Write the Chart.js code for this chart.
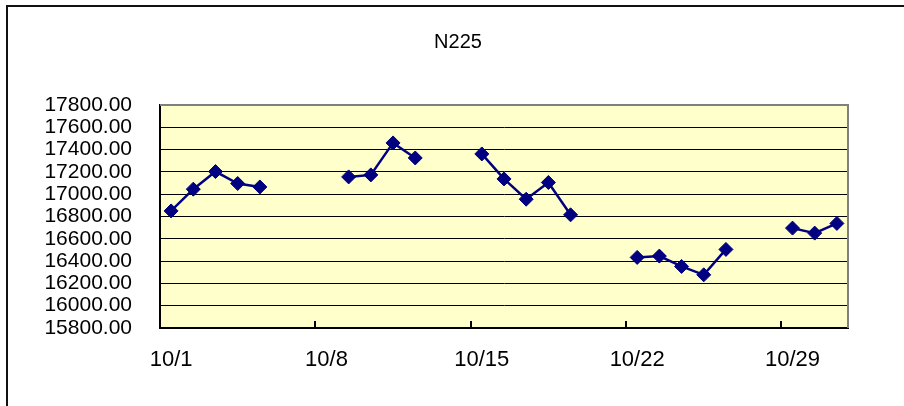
<!DOCTYPE html>
<html>
<head>
<meta charset="utf-8">
<script src="https://cdn.jsdelivr.net/npm/chart.js@4"></script>
<style>
  html, body { margin: 0; padding: 0; background: #fff; }
  #wrap { position: relative; width: 904px; height: 406px; overflow: hidden; }
  #frame { position: absolute; left: 6px; top: 5px; width: 920px; height: 420px;
           border-top: 2px solid #111; border-left: 2px solid #111; pointer-events: none; }
  canvas { position: absolute; left: 0; top: 0; }
</style>
</head>
<body>
<div id="wrap">
  <canvas id="c" width="904" height="406"></canvas>
  <div id="frame"></div>
</div>
<script>
const chartTitle = 'N225';
const categories = ['10/1','10/2','10/3','10/4','10/5','10/6','10/7','10/8','10/9','10/10',
  '10/11','10/12','10/13','10/14','10/15','10/16','10/17','10/18','10/19','10/20',
  '10/21','10/22','10/23','10/24','10/25','10/26','10/27','10/28','10/29','10/30','10/31'];
const n225 = [16850, 17045, 17203, 17096, 17065, null, null, null, 17155, 17173,
  17460, 17325, null, null, 17361, 17137, 16955, 17105, 16815, null,
  null, 16433, 16445, 16352, 16277, 16505, null, null, 16696, 16651, 16738];
const yMin = 15800, yMax = 17800, yStep = 200;
const labelEvery = 7;

const plotBg = {
  id: 'plotBg',
  beforeDraw(chart) {
    const a = chart.chartArea, ctx = chart.ctx;
    ctx.save();
    ctx.fillStyle = '#FFFFCC';
    ctx.fillRect(a.left, a.top, a.right - a.left, a.bottom - a.top);
    ctx.restore();
  },
  beforeDatasetsDraw(chart) {
    const a = chart.chartArea, ctx = chart.ctx;
    ctx.save();
    ctx.strokeStyle = '#808080';
    ctx.lineWidth = 2;
    ctx.beginPath();
    ctx.moveTo(a.left, a.top);
    ctx.lineTo(a.right, a.top);
    ctx.lineTo(a.right, a.bottom);
    ctx.stroke();
    const xs = chart.scales.x;
    const half = (xs.getPixelForValue(1) - xs.getPixelForValue(0)) / 2;
    ctx.strokeStyle = '#000';
    ctx.lineWidth = 2;
    for (let i = 0; i < categories.length; i += labelEvery) {
      const x = Math.round(xs.getPixelForValue(i) - half);
      ctx.beginPath();
      ctx.moveTo(x, a.bottom);
      ctx.lineTo(x, a.bottom - 7);
      ctx.stroke();
    }
    ctx.restore();
  }
};

new Chart(document.getElementById('c'), {
  type: 'line',
  data: {
    labels: categories,
    datasets: [{
      label: chartTitle,
      data: n225,
      borderColor: '#000080',
      backgroundColor: '#000080',
      borderWidth: 2.5,
      pointStyle: 'rectRot',
      pointRadius: 7,
      pointBackgroundColor: '#000080',
      pointBorderColor: '#000080',
      pointBorderWidth: 1,
      spanGaps: false,
      tension: 0
    }]
  },
  options: {
    responsive: false,
    animation: false,
    devicePixelRatio: 1,
    layout: { padding: { left: 12, right: 0, top: 0, bottom: 0 } },
    plugins: {
      legend: { display: false },
      tooltip: { enabled: false },
      title: {
        display: true,
        text: chartTitle,
        color: '#000',
        font: { family: 'Liberation Sans, Arial, sans-serif', size: 20, weight: 'normal', lineHeight: 1.2 },
        padding: { top: 30, bottom: 51 }
      }
    },
    scales: {
      x: {
        type: 'category',
        offset: true,
        grid: { display: true, offset: true, drawOnChartArea: false, drawTicks: false },
        border: { display: true, color: '#000', width: 2 },
        ticks: {
          autoSkip: false,
          maxRotation: 0,
          minRotation: 0,
          padding: 19,
          color: '#000',
          font: { family: 'Liberation Sans, Arial, sans-serif', size: 22 },
          callback: function (v, i) { return i % labelEvery === 0 ? categories[i] : ''; }
        },
        afterFit(scale) { scale.height = 78; }
      },
      y: {
        min: yMin,
        max: yMax,
        grid: { color: '#000', lineWidth: 1, drawTicks: false },
        border: { display: true, color: '#000', width: 2 },
        ticks: {
          stepSize: yStep,
          autoSkip: false,
          padding: 28,
          color: '#000',
          font: { family: 'Liberation Sans, Arial, sans-serif', size: 21 },
          callback: function (v) { return Number(v).toFixed(2); }
        },
        afterFit(scale) { scale.width = 148; }
      },
      yRight: {
        position: 'right',
        display: true,
        min: yMin,
        max: yMax,
        grid: { display: false, drawTicks: false },
        border: { display: false },
        ticks: { display: false },
        afterFit(scale) { scale.width = 56; }
      }
    }
  },
  plugins: [plotBg]
});
</script>
</body>
</html>
